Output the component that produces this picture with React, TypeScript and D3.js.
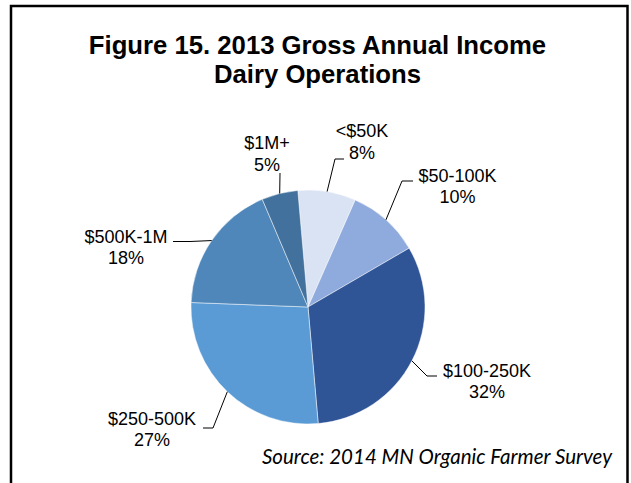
import React from "react";
import * as d3 from "d3";

const categories = ["<$50K", "$50-100K", "$100-250K", "$250-500K", "$500K-1M", "$1M+"];
const values = [8, 10, 32, 27, 18, 5];
const percentLabels = ["8%", "10%", "32%", "27%", "18%", "5%"];
const titleLines = ["Figure 15. 2013 Gross Annual Income", "Dairy Operations"];
const sourceText = "Source: 2014 MN Organic Farmer Survey";

const colors = ["#dae3f3", "#8faadc", "#2f5597", "#5b9bd5", "#4f87ba", "#41719c"];

// label layout: text centre x, first baseline y, leader elbow & end
const labelLayout: Record<string, { tx: number; ty: number; elbow: [number, number]; end: [number, number] }> = {
  "<$50K": { tx: 362, ty: 137, elbow: [335, 159], end: [344, 159] },
  "$50-100K": { tx: 457.5, ty: 181.5, elbow: [402, 181], end: [413, 181] },
  "$100-250K": { tx: 487, ty: 376.5, elbow: [427, 376], end: [437, 376] },
  "$250-500K": { tx: 152, ty: 424.5, elbow: [213, 428], end: [203, 428] },
  "$500K-1M": { tx: 126, ty: 242.5, elbow: [190, 241.5], end: [173, 241.5] },
  "$1M+": { tx: 267, ty: 149, elbow: [280, 173], end: [280, 173] },
};

export default function App() {
  const W = 631;
  const H = 483;
  const cx = 308;
  const cy = 307;
  const r = 117;
  const startOffset = (-5 * Math.PI) / 180;

  const pie = d3
    .pie<number>()
    .sort(null)
    .value((d) => d)
    .startAngle(startOffset)
    .endAngle(startOffset + 2 * Math.PI);
  const arcs = pie(values);
  const arcGen = d3.arc<d3.PieArcDatum<number>>().innerRadius(0).outerRadius(r);

  return (
    <svg width={W} height={H} style={{ position: "absolute", left: 0, top: 0 }}>
      <rect x={0} y={0} width={W} height={H} fill="#fff" />
      {/* frame */}
      <path d={`M11,${H} L11,6 L627.5,6 L627.5,${H}`} fill="none" stroke="#000" strokeWidth={2.5} />
      {titleLines.map((t, i) => (
        <text
          key={i}
          x={317.5}
          y={54 + i * 28.5}
          textAnchor="middle"
          fontFamily="'Liberation Sans', Arial, sans-serif"
          fontWeight="bold"
          fontSize={25.7}
          fill="#000"
        >
          {t}
        </text>
      ))}
      <g transform={`translate(${cx},${cy})`}>
        {arcs.map((a, i) => (
          <path key={i} d={arcGen(a) || ""} fill={colors[i]} stroke="#ffffff" strokeOpacity={0.6} strokeWidth={0.8} />
        ))}
      </g>
      {arcs.map((a, i) => {
        const mid = (a.startAngle + a.endAngle) / 2;
        const px = cx + r * Math.sin(mid);
        const py = cy - r * Math.cos(mid);
        const L = labelLayout[categories[i]];
        return (
          <g key={i}>
            <polyline
              points={`${px},${py} ${L.elbow[0]},${L.elbow[1]} ${L.end[0]},${L.end[1]}`}
              fill="none"
              stroke="#000"
              strokeWidth={1}
            />
            <text
              x={L.tx}
              y={L.ty}
              textAnchor="middle"
              fontFamily="'Liberation Sans', Arial, sans-serif"
              fontSize={18}
              fill="#000"
            >
              <tspan x={L.tx}>{categories[i]}</tspan>
              <tspan x={L.tx} dy={21.5}>
                {percentLabels[i]}
              </tspan>
            </text>
          </g>
        );
      })}
      <text
        x={612}
        y={464}
        textAnchor="end"
        fontFamily="Lato, 'Open Sans', sans-serif"
        fontStyle="italic"
        fontSize={20.5}
        fill="#000"
      >
        {sourceText}
      </text>
    </svg>
  );
}
